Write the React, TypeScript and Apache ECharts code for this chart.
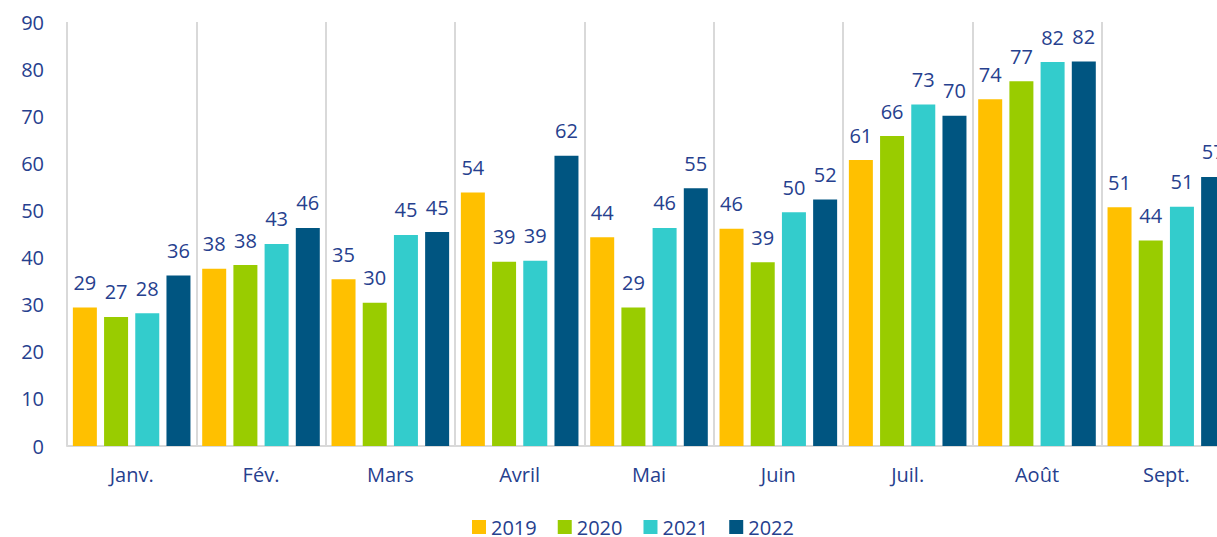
import React, { useEffect, useRef } from "react";
import * as echarts from "echarts";

const months = ["Janv.", "Fév.", "Mars", "Avril", "Mai", "Juin", "Juil.", "Août", "Sept."];
const years = ["2019", "2020", "2021", "2022"];
const v2019 = [29.4, 37.6, 35.4, 53.8, 44.3, 46.1, 60.7, 73.6, 50.7];
const v2020 = [27.4, 38.4, 30.4, 39.1, 29.4, 39.0, 65.8, 77.4, 43.6];
const v2021 = [28.2, 42.9, 44.8, 39.3, 46.3, 49.6, 72.5, 81.5, 50.8];
const v2022 = [36.2, 46.3, 45.4, 61.6, 54.7, 52.3, 70.1, 81.6, 57.1];
const colors = ["#FFC000", "#99CC00", "#33CCCC", "#005581"];

const TEXT = "#26408E";
const FONT = "'Open Sans', sans-serif";

export default function App() {
  const ref = useRef<HTMLDivElement>(null);
  useEffect(() => {
    if (!ref.current) return;
    const chart = echarts.init(ref.current, null, { renderer: "svg" });
    const seriesData = [v2019, v2020, v2021, v2022];
    chart.setOption({
      animation: false,
      textStyle: { fontFamily: FONT },
      grid: { left: 67, top: 22, bottom: 91, right: 1 },
      legend: {
        left: 472,
        top: 517,
        padding: 0,
        icon: "rect",
        itemWidth: 14,
        itemHeight: 14,
        itemGap: 21,
        textStyle: { color: TEXT, fontSize: 20, fontFamily: FONT },
        data: years,
      },
      xAxis: {
        type: "category",
        data: months,
        axisLine: { show: true, lineStyle: { color: "#D9D9D9", width: 2 } },
        axisTick: { show: false },
        splitLine: { show: true, lineStyle: { color: "#D9D9D9", width: 2 } },
        axisLabel: { color: TEXT, fontSize: 20, margin: 18, fontFamily: FONT },
      },
      yAxis: {
        type: "value",
        min: 0,
        max: 90,
        interval: 10,
        axisLine: { show: false },
        axisTick: { show: false },
        splitLine: { show: false },
        axisLabel: { color: TEXT, fontSize: 20, margin: 23, fontFamily: FONT },
      },
      series: years.map((y, i) => ({
        name: y,
        type: "bar",
        data: seriesData[i],
        barWidth: 24,
        barGap: "30%",
        itemStyle: { color: colors[i] },
        label: {
          show: true,
          position: "top",
          distance: 15,
          color: TEXT,
          fontSize: 20,
          fontFamily: FONT,
          formatter: (p: any) => Math.round(p.value).toString(),
        },
      })),
    });
    return () => chart.dispose();
  }, []);
  return (
    <div
      style={{ position: "absolute", left: 0, top: 0, width: 1217, height: 537, overflow: "hidden", background: "#fff" }}
    >
      <div ref={ref} style={{ width: 1232, height: 537 }} />
    </div>
  );
}
